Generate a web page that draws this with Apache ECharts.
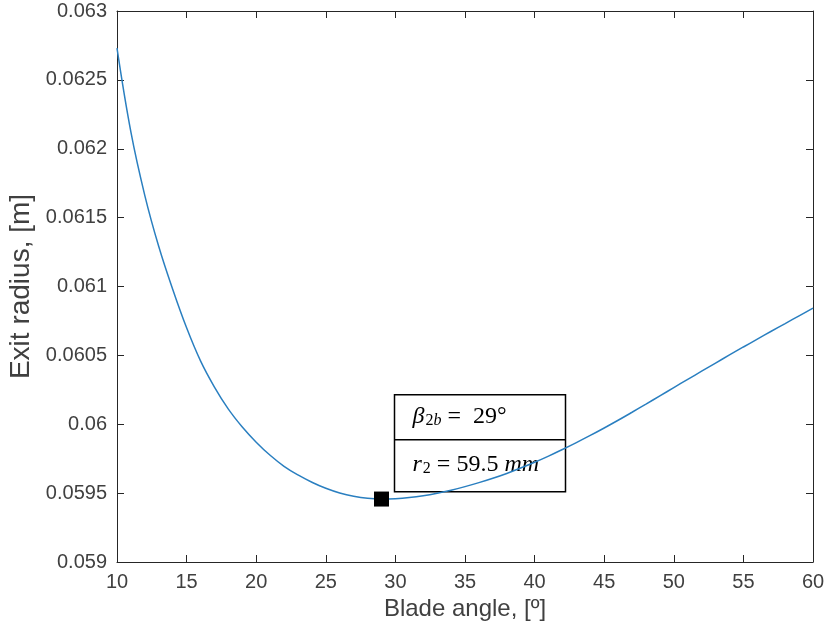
<!DOCTYPE html>
<html>
<head>
<meta charset="utf-8">
<script src="https://cdn.jsdelivr.net/npm/echarts@6/dist/echarts.min.js"></script>
<style>
  html, body { margin: 0; padding: 0; background: #fff; }
  #chart { width: 829px; height: 637px; }
</style>
</head>
<body>
<div id="chart"></div>
<script>
// blade angle [deg] and exit radius [m]
const bladeAngle = [10, 11, 12, 13, 14, 15, 16, 17, 18, 19, 20, 21, 22, 23, 24, 25,
  26, 27, 28, 29, 30, 31, 32, 33, 34, 35, 36, 37, 38, 39, 40, 41, 42, 43, 44, 45,
  46, 47, 48, 49, 50, 51, 52, 53, 54, 55, 56, 57, 58, 59, 60];
const exitRadius = [0.06273, 0.06212, 0.06166, 0.06129, 0.06098, 0.06070, 0.06046, 0.06027,
  0.06011, 0.05998, 0.05987, 0.059775, 0.059695, 0.059632, 0.059579, 0.059535, 0.059501,
  0.059477, 0.059462, 0.059457, 0.05946, 0.059468, 0.059481, 0.059499, 0.059521, 0.059547,
  0.059576, 0.059608, 0.059643, 0.059682, 0.059724, 0.059769, 0.059817, 0.059867, 0.059919,
  0.059973, 0.060029, 0.060087, 0.060146, 0.060206, 0.060266, 0.060326, 0.060385, 0.060444,
  0.060503, 0.060561, 0.060618, 0.060675, 0.060731, 0.060787, 0.060843];
// selected design point
const optimum = [29, 0.059457];

const chart = echarts.init(document.getElementById('chart'));

const axisColor = '#262626';
const labelColor = '#404040';
const font = 'Liberation Sans, Arial, sans-serif';
const serif = 'Liberation Serif, serif';

const baseX = {
  type: 'value', min: 10, max: 60, interval: 5,
  axisLine: { show: true, onZero: false, lineStyle: { color: axisColor, width: 1 } },
  axisTick: { show: true, inside: true, length: 7, lineStyle: { color: axisColor } },
  splitLine: { show: false }
};
const baseY = {
  type: 'value', min: 0.059, max: 0.063, interval: 0.0005,
  axisLine: { show: true, onZero: false, lineStyle: { color: axisColor, width: 1 } },
  axisTick: { show: true, inside: true, length: 7, lineStyle: { color: axisColor } },
  splitLine: { show: false }
};

const option = {
  animation: false,
  backgroundColor: '#fff',
  grid: { left: 117, right: 16, top: 11, bottom: 75, outerBoundsMode: 'none', containLabel: false },
  xAxis: [
    Object.assign({}, baseX, {
      position: 'bottom',
      name: 'Blade angle, [º]', nameLocation: 'middle', nameGap: 27,
      nameTextStyle: { fontSize: 24, color: labelColor, fontFamily: font },
      axisLabel: { fontSize: 20, color: labelColor, fontFamily: font, margin: 10 }
    }),
    Object.assign({}, baseX, { position: 'top', axisLabel: { show: false } })
  ],
  yAxis: [
    Object.assign({}, baseY, {
      position: 'left',
      name: 'Exit radius, [m]', nameLocation: 'middle', nameRotate: 90, nameGap: 74,
      nameTextStyle: { fontSize: 28, color: labelColor, fontFamily: font },
      axisLabel: {
        fontSize: 20, color: labelColor, fontFamily: font, margin: 10,
        formatter: v => String(+v.toFixed(4))
      }
    }),
    Object.assign({}, baseY, { position: 'right', axisLabel: { show: false } })
  ],
  series: [
    {
      type: 'line',
      data: bladeAngle.map((a, i) => [a, exitRadius[i]]),
      smooth: 0.4,
      showSymbol: false,
      lineStyle: { color: '#2a7fc0', width: 1.5 },
      z: 2
    },
    {
      type: 'scatter',
      data: [optimum],
      symbol: 'rect',
      symbolSize: 15,
      itemStyle: { color: '#000', opacity: 1 },
      z: 3
    }
  ],
  graphic: [
    {
      type: 'group', left: 392, top: 394, z: 10,
      children: [
        { type: 'rect', shape: { x: 0, y: 0, width: 171, height: 97 },
          style: { fill: '#fff', stroke: '#000', lineWidth: 1.5 } },
        { type: 'line', shape: { x1: 0, y1: 45, x2: 171, y2: 45 },
          style: { stroke: '#000', lineWidth: 1.5 } },
        { type: 'text', x: 18, y: 22,
          style: {
            text: '{i|β}{sub|2}{subi|b}{n| =  29°}',
            verticalAlign: 'middle',
            rich: {
              i: { fontFamily: serif, fontStyle: 'italic', fontSize: 24, fill: '#000' },
              sub: { fontFamily: serif, fontSize: 16, fill: '#000', padding: [9, 0, 0, 1] },
              subi: { fontFamily: serif, fontStyle: 'italic', fontSize: 16, fill: '#000', padding: [9, 0, 0, 0] },
              n: { fontFamily: serif, fontSize: 24, fill: '#000' }
            }
          } },
        { type: 'text', x: 18, y: 70,
          style: {
            text: '{i|r}{sub|2}{n| = 59.5 }{i|mm}',
            verticalAlign: 'middle',
            rich: {
              i: { fontFamily: serif, fontStyle: 'italic', fontSize: 24, fill: '#000' },
              sub: { fontFamily: serif, fontSize: 16, fill: '#000', padding: [9, 0, 0, 1] },
              n: { fontFamily: serif, fontSize: 24, fill: '#000' }
            }
          } }
      ]
    }
  ]
};

chart.setOption(option);
</script>
</body>
</html>
